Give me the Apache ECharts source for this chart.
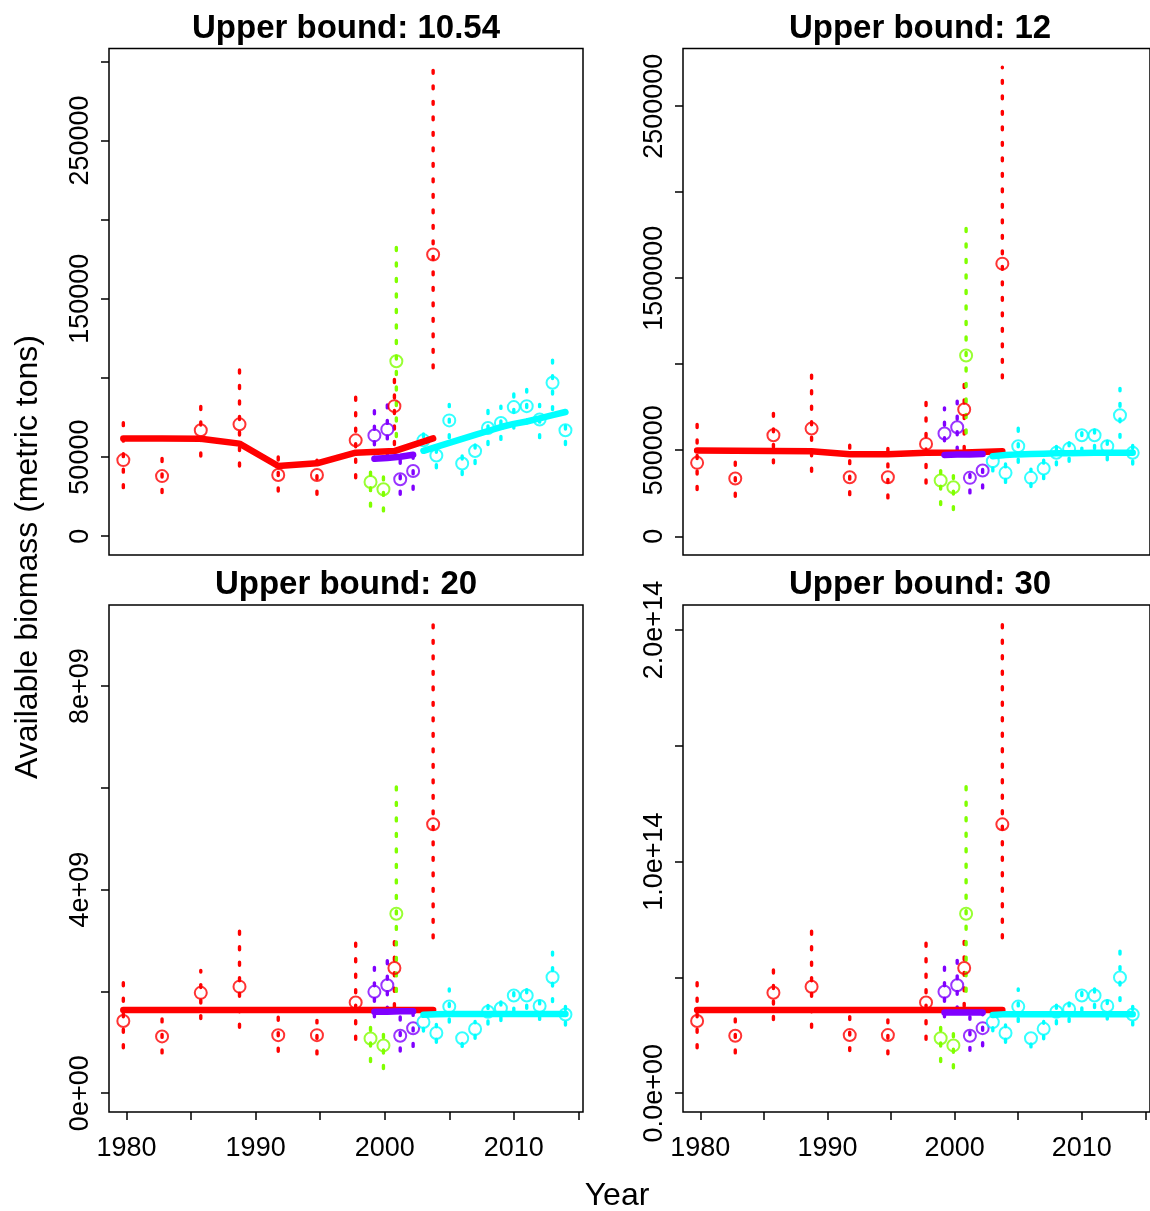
<!DOCTYPE html>
<html>
<head>
<meta charset="utf-8">
<script src="https://cdn.jsdelivr.net/npm/echarts@6/dist/echarts.min.js"></script>
<style>
  html, body { margin: 0; padding: 0; background: #fff; }
  #chart { width: 1150px; height: 1211px; }
</style>
</head>
<body>
<div id="chart"></div>
<script>
// ---------------- DATA ----------------
const panelTitles = ['Upper bound: 10.54', 'Upper bound: 12', 'Upper bound: 20', 'Upper bound: 30'];
const yAxisTitle = 'Available biomass (metric tons)';
const xAxisTitle = 'Year';

const xTickValues = [1980, 1985, 1990, 1995, 2000, 2005, 2010, 2015];
const xLabelValues = [1980, 1990, 2000, 2010];

const yTickValues1 = [0, 50000, 100000, 150000, 200000, 250000, 300000];
const yTickLabels1 = ['0', '50000', '', '150000', '', '250000', ''];
const yTickValues2 = [0, 500000, 1000000, 1500000, 2000000, 2500000];
const yTickLabels2 = ['0', '500000', '', '1500000', '', '2500000'];
const yTickValues3 = [0, 2e9, 4e9, 6e9, 8e9];
const yTickLabels3 = ['0e+00', '', '4e+09', '', '8e+09'];
const yTickValues4 = [0, 0.5e14, 1e14, 1.5e14, 2e14];
const yTickLabels4 = ['0.0e+00', '', '1.0e+14', '', '2.0e+14'];

const redYears = [1979.75, 1982.75, 1985.75, 1988.75, 1991.75, 1994.75, 1997.75, 2000.75, 2003.75];
const greenYears = [1998.9, 1999.9, 2000.9];
const purpleYears = [1999.2, 2000.2, 2001.2, 2002.2];
const cyanYears = [2003, 2004, 2005, 2006, 2007, 2008, 2009, 2010, 2011, 2012, 2013, 2014];

// Panel 1 (upper bound 10.54)
const red1 = [48100, 38000, 67000, 70700, 38700, 38700, 60600, 82200, 178000];
const red1Lo = [30700, 27600, 50700, 44400, 28600, 26500, 37000, 58000, 106400];
const red1Hi = [73000, 50700, 84300, 109600, 51700, 49600, 91700, 106000, 296300];
const red1Fit = [61800, 61700, 61600, 58500, 44400, 46100, 52800, 53800, 61800];
const green1 = [34300, 29700, 110600];
const green1Lo = [19000, 16000, 63000];
const green1Hi = [44000, 39000, 187400];
const purple1 = [63700, 67500, 36000, 41200];
const purple1Lo = [48000, 51700, 26500, 29700];
const purple1Hi = [80000, 84500, 48600, 53000];
const purple1Fit = [49000, 49500, 50200, 51500];
const cyan1 = [60600, 51000, 73200, 46000, 53800, 68400, 71500, 81600, 82200, 73800, 97000, 67000];
const cyan1Lo = [53000, 43300, 62300, 39000, 46000, 58000, 61200, 68400, 71500, 62300, 80000, 58000];
const cyan1Hi = [68000, 58000, 83300, 51700, 60000, 80000, 82200, 91700, 92700, 83300, 113800, 75900];
const cyan1Fit = [54000, 56500, 59000, 61500, 64000, 66500, 69000, 71000, 72500, 74500, 76500, 78500];

// Panel 2 (upper bound 12)
const red2 = [426700, 335500, 587200, 626000, 343000, 343000, 537000, 736600, 1585000];
const red2Lo = [271500, 232600, 426700, 378000, 242000, 223000, 310000, 504000, 921000];
const red2Hi = [668600, 455800, 746500, 979000, 552000, 533000, 824000, 950000, 2727000];
const red2Fit = [498000, 497000, 496000, 494000, 477000, 477000, 485000, 487000, 494000];
const green2 = [323800, 285000, 1050600];
const green2Lo = [184000, 155000, 600000];
const green2Hi = [420000, 380000, 1831000];
const purple2 = [597000, 634000, 339500, 382000];
const purple2Lo = [465000, 500000, 252000, 281000];
const purple2Hi = [746500, 785000, 426700, 456000];
const purple2Fit = [473000, 475000, 476000, 478000];
const cyan2 = [436000, 368600, 523000, 339500, 393600, 485000, 508000, 587000, 587000, 523000, 703500, 485000];
const cyan2Lo = [380000, 313000, 430000, 289000, 335000, 415000, 436000, 495000, 510000, 445000, 575000, 420000];
const cyan2Hi = [497000, 425000, 630000, 390000, 450000, 565000, 585000, 665000, 665000, 600000, 860000, 550000];
const cyan2Fit = [465000, 472000, 476000, 478000, 480000, 482000, 483000, 484000, 485000, 485000, 485000, 485000];

// Panel 3 (upper bound 20)
const red3 = [1.418e9, 1.116e9, 1.972e9, 2.094e9, 1.141e9, 1.141e9, 1.784e9, 2.46e9, 5.283e9];
const red3Lo = [0.892e9, 0.792e9, 1.466e9, 1.297e9, 0.825e9, 0.772e9, 1.061e9, 1.70e9, 3.053e9];
const red3Hi = [2.21e9, 1.466e9, 2.413e9, 3.222e9, 1.5e9, 1.432e9, 2.953e9, 3.15e9, 9.223e9];
const red3Fit = [1.635e9, 1.635e9, 1.635e9, 1.635e9, 1.635e9, 1.635e9, 1.635e9, 1.635e9, 1.635e9];
const green3 = [1.075e9, 0.939e9, 3.527e9];
const green3Lo = [0.623e9, 0.487e9, 2.0e9];
const green3Hi = [1.35e9, 1.25e9, 6.175e9];
const purple3 = [1.992e9, 2.122e9, 1.128e9, 1.277e9];
const purple3Lo = [1.5e9, 1.63e9, 0.83e9, 0.92e9];
const purple3Hi = [2.546e9, 2.615e9, 1.5e9, 1.62e9];
const purple3Fit = [1.60e9, 1.60e9, 1.61e9, 1.61e9];
const cyan3 = [1.399e9, 1.183e9, 1.703e9, 1.081e9, 1.263e9, 1.601e9, 1.668e9, 1.919e9, 1.919e9, 1.715e9, 2.277e9, 1.548e9];
const cyan3Lo = [1.22e9, 1.0e9, 1.4e9, 0.92e9, 1.08e9, 1.36e9, 1.43e9, 1.61e9, 1.67e9, 1.45e9, 1.8e9, 1.34e9];
const cyan3Hi = [1.6e9, 1.35e9, 2.05e9, 1.21e9, 1.41e9, 1.87e9, 1.92e9, 2.15e9, 2.17e9, 1.94e9, 2.82e9, 1.75e9];
const cyan3Fit = [1.54e9, 1.55e9, 1.554e9, 1.554e9, 1.554e9, 1.554e9, 1.554e9, 1.554e9, 1.554e9, 1.554e9, 1.554e9, 1.554e9];

// Panel 4 (upper bound 30)
const red4 = [0.312e14, 0.248e14, 0.4335e14, 0.460e14, 0.251e14, 0.251e14, 0.392e14, 0.5406e14, 1.161e14];
const red4Lo = [0.196e14, 0.174e14, 0.318e14, 0.285e14, 0.184e14, 0.170e14, 0.233e14, 0.375e14, 0.671e14];
const red4Hi = [0.485e14, 0.327e14, 0.535e14, 0.715e14, 0.332e14, 0.322e14, 0.656e14, 0.69e14, 2.027e14];
const red4Fit = [0.359e14, 0.359e14, 0.359e14, 0.359e14, 0.359e14, 0.359e14, 0.359e14, 0.359e14, 0.359e14];
const green4 = [0.2375e14, 0.2064e14, 0.775e14];
const green4Lo = [0.137e14, 0.110e14, 0.44e14];
const green4Hi = [0.30e14, 0.27e14, 1.357e14];
const purple4 = [0.438e14, 0.466e14, 0.248e14, 0.281e14];
const purple4Lo = [0.33e14, 0.36e14, 0.185e14, 0.205e14];
const purple4Hi = [0.564e14, 0.575e14, 0.33e14, 0.355e14];
const purple4Fit = [0.349e14, 0.349e14, 0.349e14, 0.349e14];
const cyan4 = [0.307e14, 0.260e14, 0.374e14, 0.2375e14, 0.278e14, 0.352e14, 0.364e14, 0.422e14, 0.422e14, 0.377e14, 0.500e14, 0.340e14];
const cyan4Lo = [0.27e14, 0.22e14, 0.31e14, 0.2e14, 0.235e14, 0.30e14, 0.31e14, 0.355e14, 0.37e14, 0.32e14, 0.40e14, 0.295e14];
const cyan4Hi = [0.35e14, 0.295e14, 0.45e14, 0.265e14, 0.31e14, 0.41e14, 0.42e14, 0.47e14, 0.475e14, 0.425e14, 0.62e14, 0.385e14];
const cyan4Fit = [0.338e14, 0.3415e14, 0.3415e14, 0.3415e14, 0.3415e14, 0.3415e14, 0.3415e14, 0.3415e14, 0.3415e14, 0.3415e14, 0.3415e14, 0.3415e14];

// ---------------- LAYOUT / STYLE ----------------
const FONT = '"Liberation Sans", Arial, Helvetica, sans-serif';
const RED = '#FF0000', GREEN = '#80FF00', PURPLE = '#8000FF', CYAN = '#00FFFF';
const X_MIN = 1978.64, X_MAX = 2015.36;

const panels = [
  { grid: { left: 109, top: 48.5, width: 474, height: 506.5 }, yMin: -11850, yMax: 308150,
    ticks: yTickValues1, labels: yTickLabels1, bottom: false,
    d: { red: [red1, red1Lo, red1Hi, red1Fit], green: [green1, green1Lo, green1Hi], purple: [purple1, purple1Lo, purple1Hi, purple1Fit], cyan: [cyan1, cyan1Lo, cyan1Hi, cyan1Fit] } },
  { grid: { left: 683, top: 48.5, width: 474, height: 506.5 }, yMin: -109000, yMax: 2835700,
    ticks: yTickValues2, labels: yTickLabels2, bottom: false,
    d: { red: [red2, red2Lo, red2Hi, red2Fit], green: [green2, green2Lo, green2Hi], purple: [purple2, purple2Lo, purple2Hi, purple2Fit], cyan: [cyan2, cyan2Lo, cyan2Hi, cyan2Fit] } },
  { grid: { left: 109, top: 605, width: 474, height: 507 }, yMin: -0.369e9, yMax: 9.592e9,
    ticks: yTickValues3, labels: yTickLabels3, bottom: true,
    d: { red: [red3, red3Lo, red3Hi, red3Fit], green: [green3, green3Lo, green3Hi], purple: [purple3, purple3Lo, purple3Hi, purple3Fit], cyan: [cyan3, cyan3Lo, cyan3Hi, cyan3Fit] } },
  { grid: { left: 683, top: 605, width: 474, height: 507 }, yMin: -0.0811e14, yMax: 2.108e14,
    ticks: yTickValues4, labels: yTickLabels4, bottom: true,
    d: { red: [red4, red4Lo, red4Hi, red4Fit], green: [green4, green4Lo, green4Hi], purple: [purple4, purple4Lo, purple4Hi, purple4Fit], cyan: [cyan4, cyan4Lo, cyan4Hi, cyan4Fit] } }
];

function ciSeries(gi, years, lo, hi, color) {
  return {
    type: 'custom', xAxisIndex: gi, yAxisIndex: gi, silent: true, clip: false,
    data: years.map((x, i) => [x, lo[i], hi[i]]),
    encode: { x: 0, y: [1, 2] },
    renderItem: function (params, api) {
      const a = api.coord([api.value(0), api.value(1)]);
      const b = api.coord([api.value(0), api.value(2)]);
      return { type: 'line', shape: { x1: a[0], y1: a[1], x2: b[0], y2: b[1] },
        style: { stroke: color, lineWidth: 3.4, lineDash: [3, 12.5], lineCap: 'round' } };
    }
  };
}
function pointSeries(gi, years, vals, color) {
  return {
    type: 'scatter', xAxisIndex: gi, yAxisIndex: gi, silent: true,
    data: years.map((x, i) => [x, vals[i]]),
    symbol: 'circle', symbolSize: 12,
    itemStyle: { color: 'rgba(0,0,0,0)', borderColor: color, borderWidth: 2 },
    emphasis: { disabled: true }
  };
}
function fitSeries(gi, years, vals, color) {
  return {
    type: 'line', xAxisIndex: gi, yAxisIndex: gi, silent: true,
    data: years.map((x, i) => [x, vals[i]]),
    symbol: 'none', showSymbol: false,
    lineStyle: { color: color, width: 6.5, cap: 'round', join: 'round' },
    itemStyle: { color: color },
    emphasis: { disabled: true }
  };
}
function labelFor(ticks, labels) {
  return function (v) {
    for (let i = 0; i < ticks.length; i++) {
      if (Math.abs(ticks[i] - v) <= Math.abs(ticks[1] - ticks[0]) * 1e-6) return labels[i];
    }
    return '';
  };
}

const grids = [], xAxes = [], yAxes = [], series = [], graphics = [];
panels.forEach((p, gi) => {
  grids.push(Object.assign({ show: true, borderColor: '#000', borderWidth: 1.5, backgroundColor: 'transparent', containLabel: false }, p.grid));
  xAxes.push({
    type: 'value', gridIndex: gi, min: X_MIN, max: X_MAX, position: 'bottom',
    axisLine: { show: false, onZero: false }, splitLine: { show: false },
    axisTick: { show: p.bottom, length: 8, lineStyle: { color: '#000', width: 1.5 }, customValues: xTickValues },
    axisLabel: { show: p.bottom, customValues: xLabelValues, fontSize: 27, fontFamily: FONT, color: '#000', margin: 23,
      formatter: v => String(Math.round(v)) }
  });
  yAxes.push({
    type: 'value', gridIndex: gi, min: p.yMin, max: p.yMax, position: 'left',
    axisLine: { show: false, onZero: false }, splitLine: { show: false },
    axisTick: { show: true, length: 8, lineStyle: { color: '#000', width: 1.5 }, customValues: p.ticks },
    axisLabel: { show: true, customValues: p.ticks.filter((t, i) => p.labels[i] !== ''), rotate: 90,
      fontSize: 27, fontFamily: FONT, color: '#000', margin: 15, formatter: labelFor(p.ticks, p.labels) }
  });
  const d = p.d;
  series.push(ciSeries(gi, redYears, d.red[1], d.red[2], RED));
  series.push(pointSeries(gi, redYears, d.red[0], RED));
  series.push(fitSeries(gi, redYears, d.red[3], RED));
  series.push(ciSeries(gi, greenYears, d.green[1], d.green[2], GREEN));
  series.push(pointSeries(gi, greenYears, d.green[0], GREEN));
  series.push(ciSeries(gi, purpleYears, d.purple[1], d.purple[2], PURPLE));
  series.push(pointSeries(gi, purpleYears, d.purple[0], PURPLE));
  series.push(fitSeries(gi, purpleYears, d.purple[3], PURPLE));
  series.push(ciSeries(gi, cyanYears, d.cyan[1], d.cyan[2], CYAN));
  series.push(pointSeries(gi, cyanYears, d.cyan[0], CYAN));
  series.push(fitSeries(gi, cyanYears, d.cyan[3], CYAN));
  graphics.push({
    type: 'text', x: p.grid.left + p.grid.width / 2, y: p.grid.top - 20,
    style: { text: panelTitles[gi], font: 'bold 33px ' + FONT, fill: '#000', textAlign: 'center', textVerticalAlign: 'middle' }
  });
});
graphics.push({
  type: 'text', x: 28, y: 557, rotation: Math.PI / 2,
  style: { text: yAxisTitle, font: '32px ' + FONT, fill: '#000', textAlign: 'center', textVerticalAlign: 'middle' }
});
graphics.push({
  type: 'text', x: 617, y: 1196,
  style: { text: xAxisTitle, font: '32px ' + FONT, fill: '#000', textAlign: 'center', textVerticalAlign: 'middle' }
});

const chart = echarts.init(document.getElementById('chart'), null, { renderer: 'canvas' });
chart.setOption({
  animation: false,
  backgroundColor: '#fff',
  grid: grids, xAxis: xAxes, yAxis: yAxes, series: series, graphic: graphics
});
</script>
</body>
</html>
